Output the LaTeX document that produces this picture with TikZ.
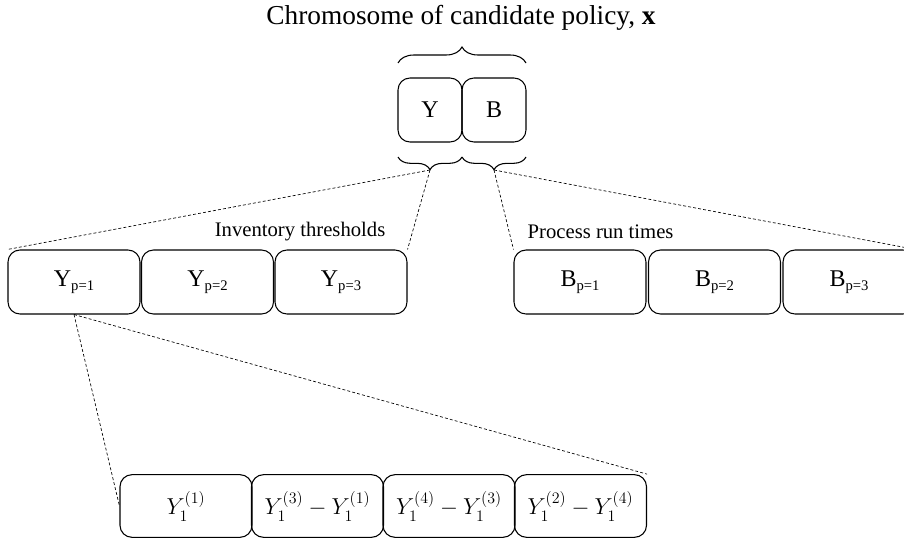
\documentclass[tikz,border=0pt]{standalone}
\usepackage{amsmath}
\usepackage{fontspec}
\setmainfont{Liberation Serif}
\usepackage{tikz}
\usetikzlibrary{decorations.pathreplacing}

\tikzset{
  gene/.style={draw, line width=0.8pt, rounded corners=9pt, inner sep=0pt,
    minimum width=48pt, minimum height=48pt, font=\fontsize{18}{21}\selectfont},
  block/.style={gene, minimum width=99pt},
  part/.style={gene, minimum width=99pt, minimum height=47pt, font=\fontsize{17}{20}\selectfont},
  guide/.style={dash pattern=on 2.2pt off 1.6pt, line width=0.5pt},
  curly/.style={line width=0.8pt, decorate, decoration={brace, amplitude=#1}}
}
\newcommand{\sub}[1]{\raisebox{-0.35ex}{\fontsize{11}{12}\selectfont #1}}

\begin{document}
\begin{tikzpicture}[x=0.75pt,y=-0.75pt]
\useasboundingbox (0,0) rectangle (904,543);

\node (title) at (461,18) {\fontsize{20.5}{24}\selectfont Chromosome of candidate policy, \textbf{x}};

  \node[gene]  (Y) at (430,110) {Y};
  \node[gene]  (B) at (494,110) {B};

  \draw[curly=12pt] (398,63) -- (526,63);
  \draw[curly=9.5pt] (462,157) -- (398,157);
  \draw[curly=9.5pt] (526,157) -- (462,157);
  \coordinate (ytip) at (430,170);
  \coordinate (btip) at (494,170);

  \node[block] (Y1) at (74,282)    {Y\sub{p=1}};
  \node[block] (Y2) at (207.5,282) {Y\sub{p=2}};
  \node[block] (Y3) at (341,282)   {Y\sub{p=3}};
  \node[block] (B1) at (580,282)   {B\sub{p=1}};
  \node[block] (B2) at (714.5,282) {B\sub{p=2}};
  \node[block] (B3) at (849,282)   {B\sub{p=3}};

  \node[anchor=east, font=\fontsize{15.5}{18}\selectfont] (inv) at (390,232) {Inventory thresholds};
  \node[anchor=west, font=\fontsize{15.5}{18}\selectfont] (run) at (523,232) {Process run times};

  \node[part] (Z1) at (186,506)   {$Y_1^{(1)}$};
  \node[part] (Z2) at (317.5,506) {$Y_1^{(3)}-Y_1^{(1)}$};
  \node[part] (Z3) at (449,506)   {$Y_1^{(4)}-Y_1^{(3)}$};
  \node[part] (Z4) at (580.5,506) {$Y_1^{(2)}-Y_1^{(4)}$};

  \path[guide]
        (ytip) edge (Y1.north west)
        (ytip) edge (Y3.north east)
        (btip) edge (B1.north west)
        (btip) edge (B3.north east)
        (Y1.south) edge (Z1.west)
        (Y1.south) edge (Z4.north east);
\end{tikzpicture}
\end{document}
